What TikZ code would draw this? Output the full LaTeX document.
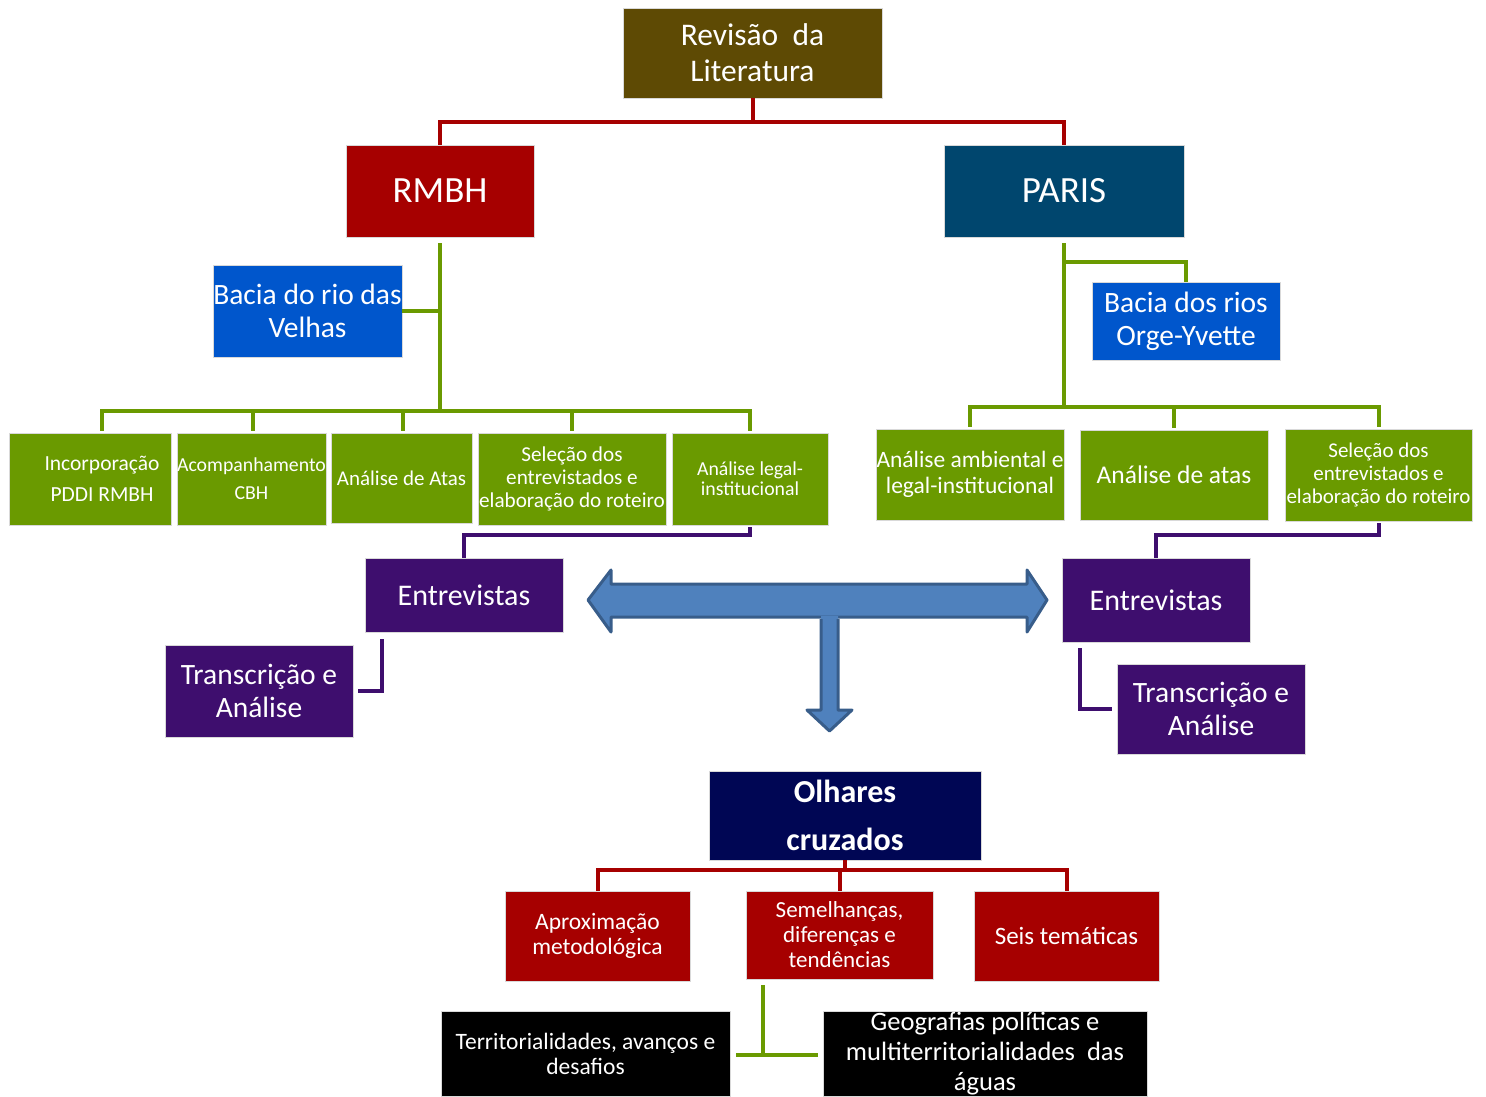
\documentclass[tikz,border=0pt]{standalone}
\usepackage{fontspec}
\setmainfont{Carlito}
\definecolor{olive}{RGB}{94,74,4}
\definecolor{dred}{RGB}{166,0,0}
\definecolor{teal}{RGB}{0,70,110}
\definecolor{bblue}{RGB}{0,86,204}
\definecolor{lgreen}{RGB}{106,154,0}
\definecolor{purp}{RGB}{62,14,110}
\definecolor{navy}{RGB}{0,6,84}
\definecolor{arrfill}{RGB}{79,129,189}
\definecolor{arrdraw}{RGB}{56,93,138}
\tikzset{
  box/.style={inner sep=0pt, align=center, text=white, draw=white!85!black, line width=0.6pt},
  redline/.style={draw=dred, line width=4pt},
  greenline/.style={draw=lgreen, line width=4pt},
  purpline/.style={draw=purp, line width=4pt},
}
\newcommand{\bx}[8]{% name, fill, x1, y1, x2, y2, font, text
  \node[box, fill=#2, minimum width={#5-#3}, minimum height={#6-#4}, font=#7] (#1) at ({(#3+#5)/2},{(#4+#6)/2}) {#8};}
\begin{document}
\begin{tikzpicture}[x=1pt,y=-1pt]
\useasboundingbox (0,0) rectangle (1486,1096);
% top
\bx{rev}{olive}{623}{8}{882}{98}{\fontsize{31.5}{36}\selectfont}{Revisão\ \ da\\Literatura}
\bx{rmbh}{dred}{346}{145}{534}{237}{\fontsize{37}{40}\selectfont}{RMBH}
\bx{paris}{teal}{944}{145}{1184}{237}{\fontsize{37}{40}\selectfont}{PARIS}
\draw[redline] (rev.south) -- ++(0,24) coordinate (rj) -| (rmbh.north);
\draw[redline] (rj) -| (paris.north);
% left branch
\bx{bacia1}{bblue}{213}{265}{402}{357}{\fontsize{29.5}{33}\selectfont}{Bacia do rio das\\Velhas}
\bx{g1}{lgreen}{9}{433}{171}{525}{\fontsize{21.5}{31}\selectfont}{\hspace*{24pt}Incorporação\\\hspace*{24pt}PDDI RMBH}
\bx{g2}{lgreen}{177}{433}{326}{525}{\fontsize{19.8}{28}\selectfont}{Acompanhamento\\CBH}
\bx{g3}{lgreen}{331}{433}{472}{523}{\fontsize{21}{24}\selectfont}{Análise de Atas}
\bx{g4}{lgreen}{478}{433}{666}{525}{\fontsize{21.2}{23}\selectfont}{Seleção dos\\entrevistados e\\elaboração do roteiro}
\bx{g5}{lgreen}{672}{433}{828}{525}{\fontsize{19.8}{20}\selectfont}{Análise legal-\\institucional}
\coordinate (lj) at (440,411);
\draw[greenline, shorten <=6pt] (rmbh.south) -- (lj);
\draw[greenline] (bacia1.east) -- (bacia1.east -| lj);
\draw[greenline, shorten >=2pt] (lj) -| ([xshift=12pt]g1.north);
\draw[greenline, shorten >=2pt] (lj) -| ([xshift=1.5pt]g2.north);
\draw[greenline, shorten >=2pt] (lj) -| ([xshift=1.5pt]g3.north);
\draw[greenline, shorten >=2pt] (lj) -| (g4.north);
\draw[greenline, shorten >=2pt] (lj) -| (g5.north);
\bx{ent1}{purp}{365}{558}{563}{632}{\fontsize{30}{33}\selectfont}{Entrevistas}
\bx{tr1}{purp}{165}{645}{353}{737}{\fontsize{29.5}{33}\selectfont}{Transcrição e\\Análise}
\draw[purpline, shorten <=2pt] (g5.south) -- ++(0,10) -| (ent1.north);
\draw[purpline, shorten <=7pt, shorten >=5pt] ([xshift=17pt]ent1.south west) |- (tr1.east);
% right branch
\bx{bacia2}{bblue}{1092}{282}{1280}{360}{\fontsize{29.5}{33}\selectfont}{Bacia dos rios\\Orge-Yvette}
\bx{h1}{lgreen}{876}{429}{1064}{520}{\fontsize{23.5}{26}\selectfont}{Análise ambiental e\\legal-institucional}
\bx{h2}{lgreen}{1080}{430}{1268}{520}{\fontsize{25.5}{28}\selectfont}{Análise de atas}
\bx{h3}{lgreen}{1285}{429}{1472}{521}{\fontsize{21}{23}\selectfont}{Seleção dos\\entrevistados e\\elaboração do roteiro}
\coordinate (pj) at (1064,407);
\draw[greenline, shorten <=6pt] (paris.south) -- (pj);
\draw[greenline, shorten <=25pt] (paris.south) |- (1064,262) -| (bacia2.north);
\draw[greenline, shorten >=2pt] (pj) -| (h1.north);
\draw[greenline, shorten >=2pt] (pj) -| (h2.north);
\draw[greenline, shorten >=2pt] (pj) -| (h3.north);
\bx{ent2}{purp}{1062}{558}{1250}{642}{\fontsize{30}{33}\selectfont}{Entrevistas}
\bx{tr2}{purp}{1117}{664}{1305}{754}{\fontsize{29.5}{33}\selectfont}{Transcrição e\\Análise}
\draw[purpline, shorten <=2pt] (h3.south) -- ++(0,14) -| (ent2.north);
\draw[purpline, shorten <=6pt, shorten >=5pt] ([xshift=18pt]ent2.south west) |- (tr2.west);
% block arrows
\filldraw[fill=arrfill, draw=arrdraw, line width=3pt, line join=round]
  (588,600) -- (611,570) -- (611,584) -- (1027,584) -- (1027,570) -- (1047,600)
  -- (1027,632) -- (1027,617) -- (611,617) -- (611,632) -- cycle;
\fill[arrfill] (821,616) -- (821,710) -- (807,710) -- (829.5,731) -- (852,710) -- (838,710) -- (838,616) -- cycle;
\draw[arrdraw, line width=3pt, line join=round] (821,619) -- (821,710) -- (807,710) -- (829.5,731) -- (852,710) -- (838,710) -- (838,619);
% bottom
\bx{olh}{navy}{709}{771}{981}{860}{\fontsize{32}{48}\selectfont\bfseries}{Olhares\\cruzados}
\bx{r1}{dred}{505}{891}{690}{981}{\fontsize{23.5}{25}\selectfont}{Aproximação\\metodológica}
\bx{r2}{dred}{746}{891}{933}{979}{\fontsize{23}{25}\selectfont}{Semelhanças,\\diferenças e\\tendências}
\bx{r3}{dred}{974}{891}{1159}{981}{\fontsize{25}{28}\selectfont}{Seis temáticas}
\draw[redline] (olh.south) -- ++(0,10) coordinate (oj) -| (r1.north);
\draw[redline] (oj) -| (r2.north);
\draw[redline] (oj) -| (r3.north);
\bx{k1}{black}{441}{1011}{730}{1096}{\fontsize{23.5}{25}\selectfont}{Territorialidades, avanços e\\desafios}
\bx{k2}{black}{823}{1011}{1147}{1096}{\fontsize{26.5}{30}\selectfont}{Geografias políticas e\\multiterritorialidades\ \ das\\águas}
\coordinate (bj) at (763,1055);
\draw[greenline, shorten <=6pt] (r2.south -| bj) -- (bj);
\draw[greenline, shorten <=6pt, shorten >=5pt] (k1.east |- bj) -- (k2.west |- bj);
\end{tikzpicture}
\end{document}
